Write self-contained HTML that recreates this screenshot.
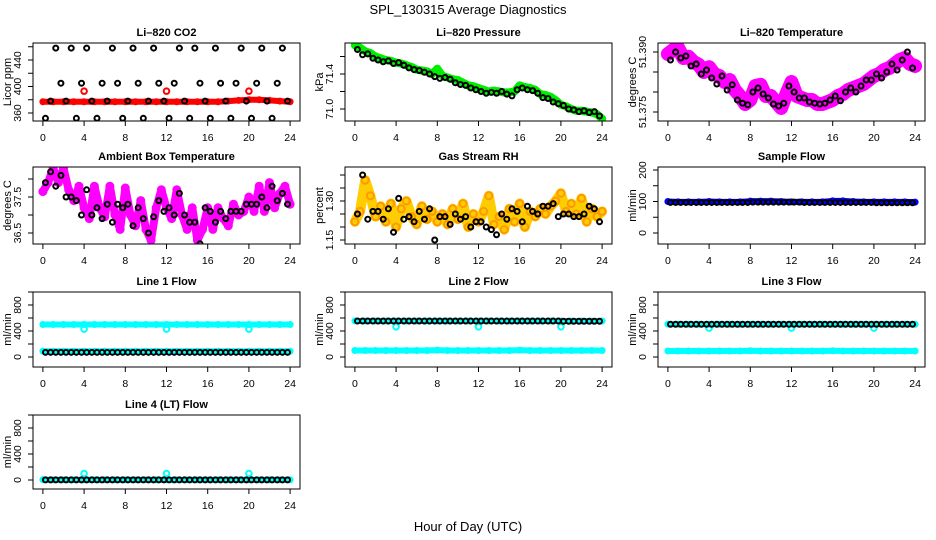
<!DOCTYPE html>
<html><head><meta charset="utf-8"><title>SPL_130315 Average Diagnostics</title>
<style>
html,body{margin:0;padding:0;background:#fff;}
svg{display:block;font-family:"Liberation Sans",Arial,sans-serif;}
</style></head>
<body>
<svg id="chart" width="936" height="540" viewBox="0 0 936 540" xmlns="http://www.w3.org/2000/svg">
<rect x="0" y="0" width="936" height="540" fill="#fff"/>
<text x="468" y="14" text-anchor="middle" font-size="13">SPL_130315  Average Diagnostics</text>
<text x="468" y="531" text-anchor="middle" font-size="13">Hour of Day (UTC)</text>
</svg>
<script>
// ---------- data ----------
const xTicks = [0,4,8,12,16,20,24];
const co2Black = [352,378,458,405,378,458,352,405,458,378,352,405,378,458,405,352,378,458,405,352,378,458,405,378,352,405,458,378,352,458,405,378,352,458,405,378,352,405,458,378,352,405,458,378,352,405,458,378];
const co2Red = [377,377,377,377,377,377,377,377,377,377,377,377,377,377,377,377,377,377,378,379,380,380,379,378,377];
const co2SpikeHours = [4,12,20];
const co2SpikeVals = [393,393,393];
const presGreen = [71.73,71.70,71.66,71.64,71.60,71.58,71.56,71.55,71.53,71.52,71.50,71.48,71.45,71.44,71.43,71.40,71.46,71.38,71.36,71.34,71.33,71.30,71.27,71.26,71.24,71.22,71.20,71.21,71.20,71.19,71.19,71.20,71.27,71.25,71.24,71.22,71.17,71.16,71.14,71.10,71.05,71.03,71.00,70.98,70.98,70.97,70.96,70.94,70.89];
const presBlack = [71.68,71.62,71.63,71.58,71.56,71.54,71.55,71.52,71.53,71.50,71.47,71.45,71.44,71.42,71.40,71.37,71.35,71.36,71.34,71.30,71.28,71.27,71.24,71.22,71.20,71.18,71.19,71.18,71.20,71.17,71.15,71.22,71.24,71.22,71.21,71.18,71.13,71.12,71.08,71.06,71.04,71.00,70.99,70.97,70.98,70.96,70.97,70.92];
const licTempMag = [51.3895,51.3905,51.3910,51.3885,51.3888,51.3875,51.3868,51.3850,51.3862,51.3845,51.3840,51.3825,51.3830,51.3805,51.3790,51.3770,51.3780,51.3815,51.3818,51.3790,51.3790,51.3775,51.3760,51.3795,51.3825,51.3790,51.3785,51.3780,51.3780,51.3770,51.3770,51.3775,51.3780,51.3790,51.3795,51.3805,51.3810,51.3815,51.3820,51.3830,51.3840,51.3845,51.3855,51.3860,51.3870,51.3880,51.3885,51.3870,51.3865];
const licTempBlack = [51.3880,51.3900,51.3885,51.3890,51.3865,51.3870,51.3845,51.3855,51.3835,51.3820,51.3840,51.3805,51.3818,51.3780,51.3772,51.3768,51.3800,51.3810,51.3795,51.3785,51.3770,51.3765,51.3772,51.3815,51.3800,51.3785,51.3785,51.3775,51.3772,51.3770,51.3772,51.3780,51.3790,51.3778,51.3800,51.3810,51.3800,51.3815,51.3830,51.3830,51.3845,51.3835,51.3850,51.3870,51.3855,51.3880,51.3900,51.3860];
const ambMag = [37.65,37.9,38.3,37.9,38.3,37.7,37.4,37.8,37.2,36.9,37.8,37.2,36.95,37.8,37.0,36.6,37.75,37.0,36.7,37.4,36.6,36.3,37.2,37.7,37.2,36.9,37.7,37.0,36.6,37.2,36.3,36.6,37.2,36.6,37.2,36.9,36.7,37.3,37.0,37.1,37.5,37.1,37.8,37.1,37.9,37.2,37.6,37.8,37.3];
const ambBlack = [37.9,38.2,37.8,38.1,37.5,37.5,37.4,37.0,37.7,37.0,37.2,36.9,37.3,36.8,37.3,37.2,37.3,36.7,37.2,36.9,36.5,36.95,37.4,37.1,37.2,37.0,37.6,37.0,36.8,36.8,36.2,37.2,37.1,36.8,37.1,36.9,37.1,37.1,37.1,37.3,37.3,37.3,37.5,37.2,37.8,37.4,37.6,37.3];
const rhOrange = [1.22,1.26,1.38,1.32,1.24,1.28,1.22,1.29,1.20,1.27,1.30,1.24,1.21,1.28,1.23,1.26,1.22,1.25,1.21,1.27,1.23,1.29,1.20,1.25,1.22,1.26,1.32,1.21,1.24,1.19,1.27,1.22,1.29,1.20,1.26,1.24,1.27,1.25,1.28,1.30,1.33,1.26,1.29,1.25,1.31,1.22,1.27,1.24,1.26];
const rhBlack = [1.25,1.40,1.23,1.26,1.26,1.23,1.27,1.18,1.31,1.23,1.24,1.22,1.26,1.23,1.27,1.15,1.24,1.24,1.21,1.25,1.23,1.24,1.20,1.22,1.22,1.20,1.19,1.17,1.25,1.23,1.27,1.26,1.22,1.28,1.26,1.25,1.28,1.28,1.29,1.24,1.25,1.25,1.24,1.24,1.25,1.28,1.27,1.22];
const sampleBlue = [100,99,99,99,100,99,99,99,101,101,101,100,99,99,99,99,102,102,100,99,99,99,99,99,98];
const sampleBlack = [97,97,97,97,97,97,97,97,97,97,97,97,97,97,97,97,98,98,98,98,98,98,98,98,98,98,97,97,97,97,97,97,97,97,97,97,97,97,97,97,96,96,96,96,96,96,96,96];
const l1CyanHigh = [500,500,500,500,500,500,500,500,500,500,500,500,500,500,500,500,500,500,500,500,500,500,500,500,500];
const l1CyanLow = [90,88,88,88,88,88,88,88,88,88,88,88,88,88,88,88,88,88,88,88,88,88,88,88,88];
const l1Black = [72,72,72,72,72,72,72,72,72,72,72,72,72,72,72,72,72,72,72,72,72,72,72,72,72,72,72,72,72,72,72,72,72,72,72,72,72,72,72,72,72,72,72,72,72,72,72,72];
const l2CyanHigh = [555,553,553,553,553,553,553,553,553,553,553,553,553,553,553,553,553,553,553,553,553,553,553,553,553];
const l2CyanLow = [100,100,100,100,100,100,100,100,105,100,100,100,100,100,100,100,105,100,100,100,100,100,100,100,100];
const l2Black = [553,553,553,553,553,553,553,553,553,553,553,553,553,553,553,553,553,553,553,553,553,553,553,553,553,553,553,553,553,553,553,553,553,553,553,553,553,553,553,553,550,550,550,550,550,550,550,550];
const l3CyanHigh = [505,503,503,503,503,503,503,503,503,503,503,503,503,503,503,503,503,503,503,503,503,503,503,503,503];
const l3CyanLow = [92,92,92,92,92,92,92,92,96,92,92,92,92,92,92,92,96,92,92,92,92,92,92,92,92];
const l3Black = [503,503,503,503,503,503,503,503,503,503,503,503,503,503,503,503,503,503,503,503,503,503,503,503,503,503,503,503,503,503,503,503,503,503,503,503,503,503,503,503,503,503,503,503,503,503,503,503];
const l4Cyan = [5,3,3,3,3,3,3,3,3,3,3,3,3,3,3,3,3,3,3,3,3,3,3,3,3];
const l4Black = [2,2,2,2,2,2,2,2,2,2,2,2,2,2,2,2,2,2,2,2,2,2,2,2,2,2,2,2,2,2,2,2,2,2,2,2,2,2,2,2,2,2,2,2,2,2,2,2];
const flowSpikeHours = [4,12,20];
const l1SpikeVals = [430,430,430];
const l2SpikeVals = [465,465,465];
const l3SpikeVals = [445,445,445];
const l4SpikeVals = [100,100,100];

// ---------- layout ----------
const NS = "http://www.w3.org/2000/svg";
const svg = document.getElementById('chart');
const COLS = [[33,300],[345,612],[658,925]];
const ROWS = [[43,121],[167,244],[292,367],[415,489]];

function mk(tag, attrs, parent) {
  const e = document.createElementNS(NS, tag);
  for (const k in attrs) e.setAttribute(k, attrs[k]);
  (parent || svg).appendChild(e);
  return e;
}
function xScale(box) { return h => box.l + (h + 0.96) / 25.92 * (box.r - box.l); }
function yScale(v0, p0, v1, p1) { return v => p0 + (v - v0) * (p1 - p0) / (v1 - v0); }

function panel(name, col, row, title, ylab, cal, yTickVals, yLabVals, fmt) {
  const box = {l: COLS[col][0], r: COLS[col][1], t: ROWS[row][0], b: ROWS[row][1]};
  const g = mk('g', {});
  
  
  const xs = xScale(box), ys = yScale(cal[0], cal[1], cal[2], cal[3]);
  const t = mk('text', {x: (box.l + box.r) / 2, y: box.t - 7, 'text-anchor': 'middle', 'font-size': 11, 'font-weight': 'bold'}, g);
  t.textContent = title;
  
  
  const yl = mk('text', {x: 0, y: 0, transform: `translate(${box.l - 25},${(box.t + box.b) / 2}) rotate(-90)`, 'text-anchor': 'middle', 'font-size': 11, 'dominant-baseline': 'middle'}, g);
  yl.textContent = ylab;
  
  
  xTicks.forEach(h => {
    const x = xs(h);
    mk('line', {x1: x, x2: x, y1: box.b, y2: box.b + 5, stroke: '#000', 'stroke-width': 1}, g);
    const lt = mk('text', {x: x, y: box.b + 20, 'text-anchor': 'middle', 'font-size': 10.5}, g);
    lt.textContent = h;
    
    
  });
  yTickVals.forEach(v => {
    const y = ys(v);
    mk('line', {x1: box.l - 5, x2: box.l, y1: y, y2: y, stroke: '#000', 'stroke-width': 1}, g);
  });
  yLabVals.forEach(v => {
    const y = ys(v);
    const lt = mk('text', {x: 0, y: 0, transform: `translate(${box.l - 12},${y}) rotate(-90)`, 'text-anchor': 'middle', 'font-size': 10.5}, g);
    lt.textContent = fmt ? fmt(v) : v;
    
    
  });
  const plot = mk('g', {}, g);
  const clip = 'clip-' + name;
  const cp = mk('clipPath', {id: clip}, g);
  mk('rect', {x: box.l, y: box.t, width: box.r - box.l, height: box.b - box.t}, cp);
  plot.setAttribute('clip-path', `url(#${clip})`);
  const frame = mk('rect', {x: box.l, y: box.t, width: box.r - box.l, height: box.b - box.t, fill: 'none', stroke: '#000', 'stroke-width': 1}, g);
  
  
  return {xs, ys, plot, box};
}

function series(p, vals, start, step, color, fill, band, r, sname) {
  const pts = vals.map((v, i) => [p.xs(start + step * i), p.ys(v)]);
  if (band > 0) {
    const pl = mk('polyline', {points: pts.map(q => q.join(',')).join(' '), fill: 'none', stroke: fill || color, 'stroke-width': band, 'stroke-linejoin': 'round', 'stroke-linecap': 'round'}, p.plot);
    
    
  }
  pts.forEach(q => {
    const c = mk('circle', {cx: q[0], cy: q[1], r: r, fill: fill || 'none', stroke: color, 'stroke-width': 2}, p.plot);
    
    
  });
}
function spikes(p, hours, vals, color, sname) {
  hours.forEach((h, i) => {
    const c = mk('circle', {cx: p.xs(h), cy: p.ys(vals[i]), r: 2.8, fill: 'none', stroke: color, 'stroke-width': 2}, p.plot);
    
    
  });
}

const RED = '#ff0000', MAG = '#ff00ff', GRN = '#00ee00', CYAN = '#00ffff', BLUE = '#0000ff';

let p = panel('co2', 0, 0, 'Li\u2013820 CO2', 'Licor ppm', [360,113,440,60], [360,380,400,420,440,460], [360,400,440]);
series(p, co2Red, 0, 1, RED, RED, 6, 2.5, 'co2-red');
spikes(p, co2SpikeHours, co2SpikeVals, RED, 'co2-red-spike');
series(p, co2Black, 0.25, 0.5, '#000', null, 0, 2.5, 'co2-black');

p = panel('pressure', 1, 0, 'Li\u2013820 Pressure', 'kPa', [71.0,109,71.4,74], [71.0,71.2,71.4,71.6], [71.0,71.4], v => v.toFixed(1));
series(p, presGreen, 0, 0.5, GRN, GRN, 8, 3, 'pressure-green');
series(p, presBlack, 0.25, 0.5, '#000', null, 0, 2.5, 'pressure-black');

p = panel('licor-temp', 2, 0, 'Li\u2013820 Temperature', 'degrees C', [51.375,112,51.390,52], [51.375,51.380,51.385,51.390], [51.375,51.390], v => v.toFixed(3));
series(p, licTempMag, 0, 0.5, MAG, MAG, 14, 4.5, 'licor-temp-magenta');
series(p, licTempBlack, 0.25, 0.5, '#000', null, 0, 2.5, 'licor-temp-black');

p = panel('ambient-temp', 0, 1, 'Ambient Box Temperature', 'degrees C', [36.5,233,37.5,197], [36.5,37.0,37.5,38.0], [36.5,37.5], v => v.toFixed(1));
series(p, ambMag, 0, 0.5, MAG, MAG, 8, 3.5, 'ambient-temp-magenta');
series(p, ambBlack, 0.25, 0.5, '#000', null, 0, 2.5, 'ambient-temp-black');

p = panel('gas-rh', 1, 1, 'Gas Stream RH', 'percent', [1.15,240,1.30,201], [1.15,1.20,1.25,1.30,1.35,1.40], [1.15,1.30], v => v.toFixed(2));
series(p, rhOrange, 0, 0.5, '#ff9900', '#ffcc00', 10, 3.5, 'gas-rh-orange');
series(p, rhBlack, 0.25, 0.5, '#000', null, 0, 2.5, 'gas-rh-black');

p = panel('sample-flow', 2, 1, 'Sample Flow', 'ml/min', [0,233,200,170], [0,50,100,150,200], [0,100,200]);
series(p, sampleBlue, 0, 1, BLUE, BLUE, 6, 2.5, 'sample-flow-blue');
series(p, sampleBlack, 0.25, 0.5, '#000', null, 0, 2.5, 'sample-flow-black');

const flowTicks = [0,200,400,600,800,1000], flowLabs = [0,400,800];
p = panel('line1-flow', 0, 2, 'Line 1 Flow', 'ml/min', [0,357,400,331], flowTicks, flowLabs);
series(p, l1CyanHigh, 0, 1, CYAN, CYAN, 6, 2.5, 'line1-cyan-high');
series(p, l1CyanLow, 0, 1, CYAN, CYAN, 6, 2.5, 'line1-cyan-low');
spikes(p, flowSpikeHours, l1SpikeVals, CYAN, 'line1-cyan-spike');
series(p, l1Black, 0.25, 0.5, '#000', null, 0, 2.5, 'line1-black');

p = panel('line2-flow', 1, 2, 'Line 2 Flow', 'ml/min', [0,357,400,331], flowTicks, flowLabs);
series(p, l2CyanHigh, 0, 1, CYAN, CYAN, 6, 2.5, 'line2-cyan-high');
series(p, l2CyanLow, 0, 1, CYAN, CYAN, 6, 2.5, 'line2-cyan-low');
spikes(p, flowSpikeHours, l2SpikeVals, CYAN, 'line2-cyan-spike');
series(p, l2Black, 0.25, 0.5, '#000', null, 0, 2.5, 'line2-black');

p = panel('line3-flow', 2, 2, 'Line 3 Flow', 'ml/min', [0,357,400,331], flowTicks, flowLabs);
series(p, l3CyanHigh, 0, 1, CYAN, CYAN, 6, 2.5, 'line3-cyan-high');
series(p, l3CyanLow, 0, 1, CYAN, CYAN, 6, 2.5, 'line3-cyan-low');
spikes(p, flowSpikeHours, l3SpikeVals, CYAN, 'line3-cyan-spike');
series(p, l3Black, 0.25, 0.5, '#000', null, 0, 2.5, 'line3-black');

p = panel('line4-flow', 0, 3, 'Line 4 (LT) Flow', 'ml/min', [0,480,400,454], flowTicks, flowLabs);
series(p, l4Cyan, 0, 1, CYAN, CYAN, 6, 2.5, 'line4-cyan');
spikes(p, flowSpikeHours, l4SpikeVals, CYAN, 'line4-cyan-spike');
series(p, l4Black, 0.25, 0.5, '#000', null, 0, 2.5, 'line4-black');
</script>
</body></html>
